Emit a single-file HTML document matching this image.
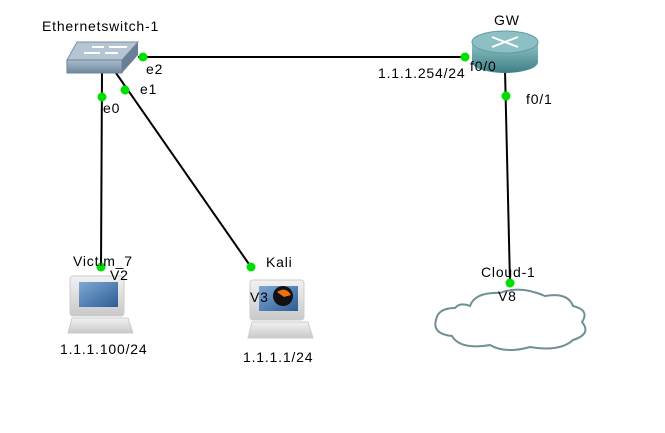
<!DOCTYPE html>
<html><head><style>
html,body{margin:0;padding:0;background:#fff;}
svg text{font-family:"Liberation Sans",sans-serif;font-size:14px;letter-spacing:0.8px;fill:#000;}
</style></head><body>
<svg width="665" height="428" viewBox="0 0 665 428" xmlns="http://www.w3.org/2000/svg">
<defs>
<linearGradient id="sw" x1="0" y1="0" x2="0" y2="1"><stop offset="0" stop-color="#a9bccd"/><stop offset="1" stop-color="#6f87a0"/></linearGradient>
<linearGradient id="rt" x1="0" y1="0" x2="0" y2="1"><stop offset="0" stop-color="#8fc3c6"/><stop offset="1" stop-color="#3d7f86"/></linearGradient>
<linearGradient id="scr" x1="0" y1="0" x2="1" y2="1"><stop offset="0" stop-color="#7fa8d4"/><stop offset="1" stop-color="#2d5d96"/></linearGradient>
<linearGradient id="lap" x1="0" y1="0" x2="0" y2="1"><stop offset="0" stop-color="#f2f2f2"/><stop offset="1" stop-color="#c8c8c8"/></linearGradient>
</defs>
<g stroke="#000" stroke-width="2" fill="none">
<line x1="138" y1="57" x2="465" y2="57"/>
<line x1="102" y1="73" x2="101" y2="268"/>
<line x1="116" y1="73" x2="251" y2="267"/>
<line x1="505" y1="70" x2="510" y2="283"/>
</g>
<polygon points="77,42 138,42 122,60 67,60" fill="#b4c5d4" stroke="#7c8ea0"/>
<polygon points="67,60 122,60 122,73 67,73" fill="url(#sw)" stroke="#6e8296"/>
<polygon points="122,60 138,42 138,55 122,73" fill="#6a7f95"/>
<g stroke="#fff" stroke-width="2"><line x1="84" y1="53" x2="100" y2="53"/><line x1="105" y1="53" x2="118" y2="53"/><line x1="92" y1="47" x2="104" y2="47"/><line x1="109" y1="47" x2="127" y2="47"/></g>
<path d="M472,42 L472,62 A33,11 0 0 0 538,62 L538,42 Z" fill="url(#rt)"/>
<ellipse cx="505" cy="42" rx="33" ry="11" fill="#8cc0c4" stroke="#5f9ca1"/>
<g stroke="#fff" stroke-width="2"><line x1="492" y1="37" x2="518" y2="47"/><line x1="492" y1="47" x2="518" y2="37"/></g>
<rect x="70" y="276" width="54" height="40" rx="3" fill="url(#lap)" stroke="#ccc"/>
<rect x="79" y="282" width="39" height="25" fill="url(#scr)"/>
<polygon points="72,318 128,318 133,333 68,333" fill="url(#lap)" stroke="#ccc"/>
<rect x="250" y="280" width="54" height="40" rx="3" fill="url(#lap)" stroke="#ccc"/>
<rect x="259" y="286" width="39" height="25" fill="url(#scr)"/>
<circle cx="283" cy="296" r="10" fill="#111"/>
<path d="M277,292 Q286,286 291,295 L284,297 Z" fill="#f07010"/>
<polygon points="252,322 308,322 313,338 248,338" fill="url(#lap)" stroke="#ccc"/>
<path d="M470,306 Q475,292 500,293 Q520,285 545,296 Q568,292 573,306 Q590,310 582,322 Q592,334 573,340 Q560,352 530,347 Q505,354 490,345 Q460,350 452,336 Q432,334 436,320 Q438,308 455,308 Q460,302 470,306 Z" fill="#fff" stroke="#6f8f94" stroke-width="2"/>
<g fill="#00e000">
<circle cx="143" cy="57" r="4.5"/><circle cx="465" cy="57" r="4.5"/>
<circle cx="102" cy="97" r="4.5"/><circle cx="125" cy="90" r="4.5"/>
<circle cx="506" cy="96" r="4.5"/><circle cx="101" cy="267" r="4.5"/>
<circle cx="251" cy="267" r="4.5"/><circle cx="510" cy="283" r="4.5"/>
</g>
<text x="42" y="31">Ethernetswitch-1</text>
<text x="146" y="74">e2</text>
<text x="140" y="94">e1</text>
<text x="103" y="113">e0</text>
<text x="494" y="25">GW</text>
<text x="470" y="71">f0/0</text>
<text x="378" y="78">1.1.1.254/24</text>
<text x="526" y="104">f0/1</text>
<text x="73" y="266">Victim_7</text>
<text x="110" y="280">V2</text>
<text x="266" y="267">Kali</text>
<text x="250" y="302">V3</text>
<text x="60" y="354">1.1.1.100/24</text>
<text x="243" y="362">1.1.1.1/24</text>
<text x="481" y="277">Cloud-1</text>
<text x="498" y="301">V8</text>
</svg>
</body></html>
